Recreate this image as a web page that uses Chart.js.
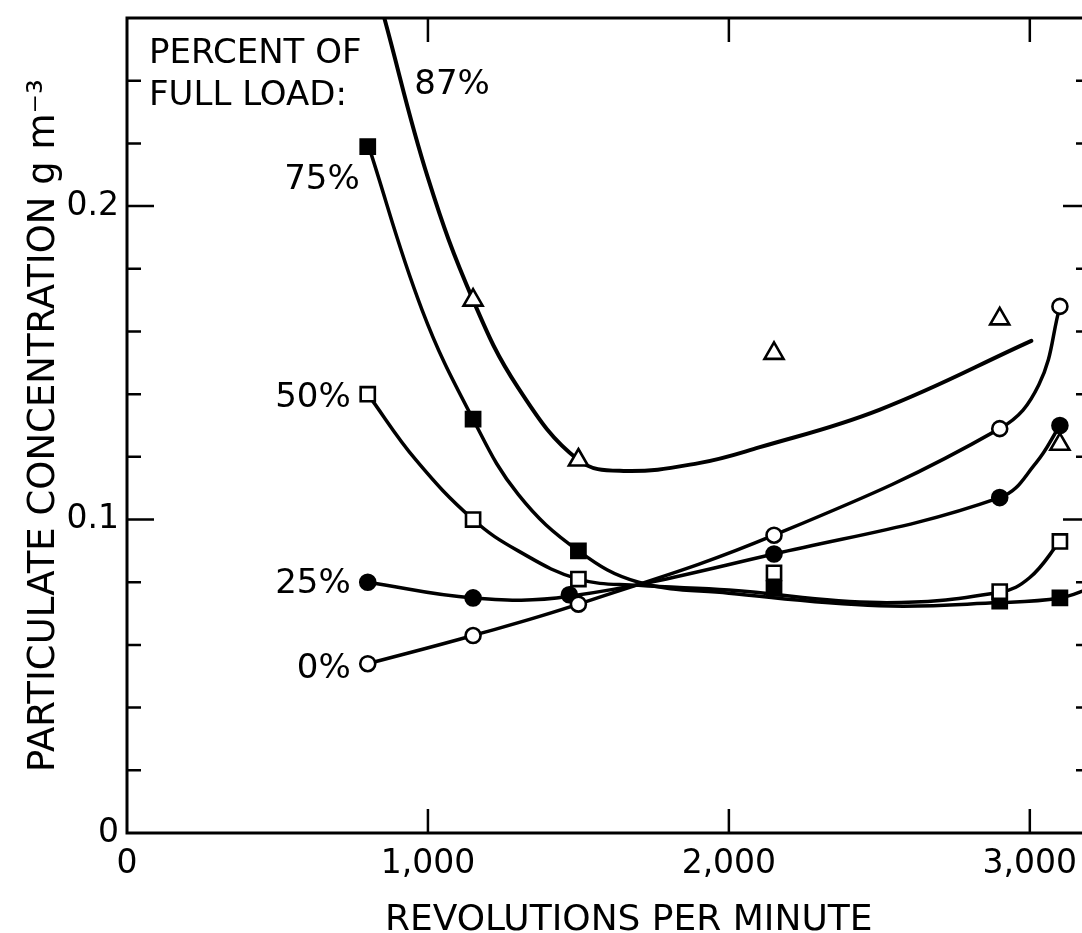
<!DOCTYPE html>
<html>
<head>
<meta charset="utf-8">
<script src="https://cdn.jsdelivr.net/npm/chart.js@4.4.0/dist/chart.umd.min.js"></script>
<style>
  html, body { margin: 0; padding: 0; background: #fff; overflow: hidden; }
  #wrap { width: 1100px; height: 933px; }
</style>
</head>
<body>
<div id="wrap"><canvas id="myChart"></canvas></div>
<script>
// measured points, engine speed (rpm) vs particulate concentration (g/m3)
const rpm = [800, 1150, 1500, 2150, 2900, 3100];
const rpm25 = [800, 1150, 1470, 2150, 2900, 3100];
const rpm87 = [1150, 1500, 2150, 2900, 3100];

const load0 = [0.054, 0.063, 0.073, 0.095, 0.129, 0.168];
const load25 = [0.080, 0.075, 0.076, 0.089, 0.107, 0.130];
const load50 = [0.140, 0.100, 0.081, 0.083, 0.077, 0.093];
const load75 = [0.219, 0.132, 0.090, 0.078, 0.074, 0.075];
const load87 = [0.170, 0.119, 0.153, 0.164, 0.124];

// hand-faired curves through the points
const curve0Rpm = [800, 1150, 1500, 2150, 2900, 3030, 3100];
const curve0 = [0.054, 0.063, 0.073, 0.095, 0.129, 0.143, 0.168];
const curve25Rpm = [800, 1150, 1470, 2150, 2900, 3020, 3100];
const curve25 = [0.080, 0.075, 0.0755, 0.089, 0.107, 0.118, 0.130];
const curve50Rpm = [800, 960, 1150, 1300, 1500, 1700, 2000, 2500, 2900, 3000, 3100];
const curve50 = [0.140, 0.119, 0.100, 0.090, 0.081, 0.079, 0.0775, 0.0735, 0.0768, 0.0815, 0.093];
const curve75Rpm = [800, 980, 1150, 1300, 1500, 1700, 2000, 2500, 2900, 3100, 3200];
const curve75 = [0.220, 0.167, 0.132, 0.108, 0.090, 0.080, 0.0765, 0.0725, 0.0735, 0.075, 0.078];
const curve87Rpm = [855, 1000, 1150, 1300, 1500, 1650, 1900, 2100, 2500, 3005];
const curve87 = [0.26, 0.209, 0.170, 0.142, 0.119, 0.1155, 0.118, 0.123, 0.135, 0.157];

const xTicks = [0, 1000, 2000, 3000];
const yTicks = [0, 0.02, 0.04, 0.06, 0.08, 0.1, 0.12, 0.14, 0.16, 0.18, 0.2, 0.22, 0.24];
const yLabelled = [0, 0.1, 0.2];
const loadLabels = ['0%', '25%', '50%', '75%', '87%'];

function pts(xs, ys) {
  return xs.map((x, i) => ({ x: x, y: ys[i] }));
}

function markers(xs, ys, style, fill, r) {
  return {
    data: pts(xs, ys),
    showLine: false,
    pointStyle: style,
    pointRadius: r,
    pointHoverRadius: r,
    pointBorderWidth: 2.6,
    pointBorderColor: '#000',
    pointBackgroundColor: fill,
    order: 0
  };
}

function curve(xs, ys, w) {
  return {
    data: pts(xs, ys),
    showLine: true,
    borderColor: '#000',
    borderWidth: w,
    pointRadius: 0,
    tension: 0.4,
    borderCapStyle: 'round',
    borderJoinStyle: 'round',
    order: 1
  };
}

// box round the plot with ticks pointing inward on all four sides
const frame = {
  id: 'frame',
  afterDraw(chart) {
    const { ctx, chartArea: a, scales } = chart;
    ctx.save();
    ctx.strokeStyle = '#000';
    ctx.lineWidth = 3;
    ctx.strokeRect(a.left, a.top, a.right - a.left, a.bottom - a.top);
    ctx.lineWidth = 2.5;
    ctx.beginPath();
    xTicks.forEach(v => {
      if (v <= 0) return;
      const px = scales.x.getPixelForValue(v);
      ctx.moveTo(px, a.bottom); ctx.lineTo(px, a.bottom - 24);
      ctx.moveTo(px, a.top); ctx.lineTo(px, a.top + 24);
    });
    yTicks.forEach(v => {
      if (v <= 0) return;
      const py = scales.y.getPixelForValue(v);
      const len = yLabelled.includes(v) ? 27 : 14;
      ctx.moveTo(a.left, py); ctx.lineTo(a.left + len, py);
      ctx.moveTo(a.right, py); ctx.lineTo(a.right - len, py);
    });
    ctx.stroke();
    ctx.restore();
  }
};

// curve names and the x axis title
const labels = {
  id: 'labels',
  afterDraw(chart) {
    const { ctx, chartArea: a, scales } = chart;
    const X = v => scales.x.getPixelForValue(v);
    const Y = v => scales.y.getPixelForValue(v);
    ctx.save();
    ctx.fillStyle = '#000';
    ctx.font = '34px "DejaVu Sans"';
    ctx.textBaseline = 'middle';

    ctx.textAlign = 'left';
    ctx.fillText('PERCENT OF', a.left + 22, a.top + 36);
    ctx.fillText('FULL LOAD:', a.left + 22, a.top + 78);
    ctx.fillText(loadLabels[4], X(curve87Rpm[0]) + 30, Y(curve87[0]) + 67);

    ctx.textAlign = 'right';
    ctx.fillText(loadLabels[3], X(rpm[0]) - 8, Y(load75[0]) + 34);
    ctx.fillText(loadLabels[2], X(rpm[0]) - 17, Y(load50[0]) + 4);
    ctx.fillText(loadLabels[1], X(rpm[0]) - 17, Y(load25[0]) + 2);
    ctx.fillText(loadLabels[0], X(rpm[0]) - 17, Y(load0[0]) + 5);

    ctx.textAlign = 'left';
    ctx.textBaseline = 'alphabetic';
    ctx.font = '36px "DejaVu Sans"';
    ctx.fillText('REVOLUTIONS PER MINUTE', a.left + 258, 930);
    ctx.restore();
  }
};

Chart.defaults.font.family = '"DejaVu Sans", sans-serif';
Chart.defaults.color = '#000';

var ctx = document.getElementById('myChart');
var chart = new Chart(ctx, {
  type: 'scatter',
  data: {
    datasets: [
      markers(rpm, load0, 'circle', '#fff', 7.5),
      markers(rpm25, load25, 'circle', '#000', 7.5),
      markers(rpm, load50, 'rect', '#fff', 10),
      markers(rpm, load75, 'rect', '#000', 10),
      markers(rpm87, load87, 'triangle', '#fff', 11),
      curve(curve0Rpm, curve0, 3.5),
      curve(curve25Rpm, curve25, 3.5),
      curve(curve50Rpm, curve50, 3.5),
      curve(curve75Rpm, curve75, 3.5),
      curve(curve87Rpm, curve87, 4)
    ]
  },
  options: {
    responsive: true,
    maintainAspectRatio: false,
    animation: false,
    events: [],
    layout: { padding: { left: 0, top: 18, right: 10, bottom: 0 }, autoPadding: false },
    plugins: { legend: { display: false }, tooltip: { enabled: false } },
    scales: {
      x: {
        type: 'linear',
        min: 0,
        max: 3200,
        grid: { display: false, drawTicks: false },
        border: { display: false },
        ticks: {
          padding: 12,
          maxRotation: 0,
          autoSkip: false,
          font: { size: 33 },
          callback: v => v.toLocaleString('en-US')
        },
        afterBuildTicks: s => { s.ticks = xTicks.map(v => ({ value: v })); },
        afterFit: s => {
          s.height = 100;
          s.paddingLeft = 0;
          s.paddingRight = 0;
        }
      },
      y: {
        min: 0,
        max: 0.26,
        grid: { display: false, drawTicks: false },
        border: { display: false },
        ticks: {
          padding: 8,
          autoSkip: false,
          font: { size: 33 },
          callback: v => (v === 0 ? '0' : v.toFixed(1))
        },
        afterBuildTicks: s => { s.ticks = yLabelled.map(v => ({ value: v })); },
        title: {
          display: true,
          text: 'PARTICULATE CONCENTRATION g m\u207B\u00B3',
          font: { size: 37 },
          padding: { top: 22, bottom: 0 }
        },
        afterFit: s => {
          s.width = 127;
          s.paddingTop = 0;
          s.paddingBottom = 0;
        }
      }
    }
  },
  plugins: [frame, labels]
});
</script>
</body>
</html>
